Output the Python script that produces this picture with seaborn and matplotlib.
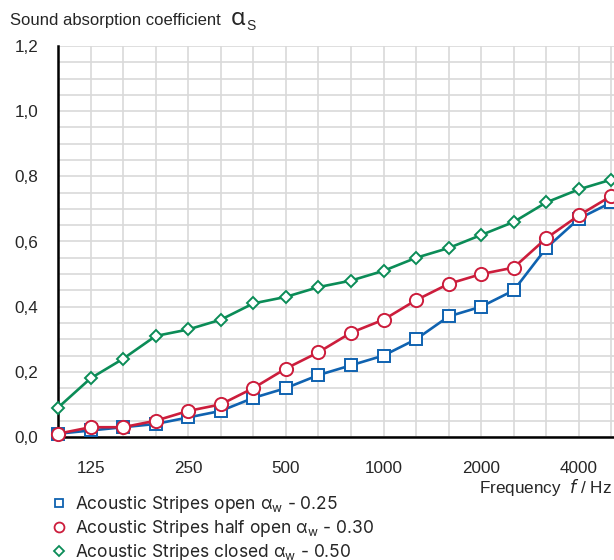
import matplotlib
matplotlib.use("Agg")
import matplotlib.pyplot as plt
from matplotlib.lines import Line2D
import numpy as np
import pandas as pd
import seaborn as sns

# third-octave bands, 100 Hz .. 5000 Hz
bands = [100, 125, 160, 200, 250, 315, 400, 500, 630, 800,
         1000, 1250, 1600, 2000, 2500, 3150, 4000, 5000]
open_vals = [0.01, 0.02, 0.03, 0.04, 0.06, 0.08, 0.12, 0.15, 0.19, 0.22,
             0.25, 0.30, 0.37, 0.40, 0.45, 0.58, 0.67, 0.72]
half_vals = [0.01, 0.03, 0.03, 0.05, 0.08, 0.10, 0.15, 0.21, 0.26, 0.32,
             0.36, 0.42, 0.47, 0.50, 0.52, 0.61, 0.68, 0.74]
closed_vals = [0.09, 0.18, 0.24, 0.31, 0.33, 0.36, 0.41, 0.43, 0.46, 0.48,
               0.51, 0.55, 0.58, 0.62, 0.66, 0.72, 0.76, 0.79]
labeled_bands = [125, 250, 500, 1000, 2000, 4000]
y_ticks = [0.0, 0.2, 0.4, 0.6, 0.8, 1.0, 1.2]

series = [
    ("Acoustic Stripes open α$_\\mathrm{w}$ - 0.25", open_vals, "#0f62b0", "s", 8.5),
    ("Acoustic Stripes half open α$_\\mathrm{w}$ - 0.30", half_vals, "#cc1d3c", "o", 9.5),
    ("Acoustic Stripes closed α$_\\mathrm{w}$ - 0.50", closed_vals, "#0b8c57", "D", 6.5),
]

sns.set_style("white")
plt.rcParams["font.family"] = ["Liberation Sans", "DejaVu Sans"]
plt.rcParams["mathtext.fontset"] = "custom"
plt.rcParams["mathtext.rm"] = "Inter"

fig = plt.figure(figsize=(6.14, 5.6), dpi=100)
ax = fig.add_axes([58 / 614, 1 - 437 / 560, 1 - 58 / 614, (437 - 46) / 560])

pos = np.arange(len(bands))
for name, vals, color, marker, ms in series:
    df = pd.DataFrame({"band": pos, "alpha": vals})
    sns.lineplot(data=df, x="band", y="alpha", ax=ax, color=color, linewidth=1.9,
                 marker=marker, markersize=ms, markerfacecolor="white",
                 markeredgecolor=color, markeredgewidth=1.4, clip_on=False, zorder=3)

ax.set_xlim(0, 17.08)
ax.set_ylim(0, 1.2)

# grid: every band vertically, every 0.05 horizontally
for p in pos:
    ax.axvline(p, color="#d9d9d9", lw=1.2, zorder=0)
for yv in np.arange(0, 1.2001, 0.05):
    ax.axhline(yv, color="#d9d9d9", lw=1.2, zorder=0)

tick_pos = [0] + [bands.index(b) for b in labeled_bands]
ax.set_xticks(tick_pos)
ax.set_xticklabels([""] + [str(b) for b in labeled_bands], fontsize=12.3)
ax.set_yticks(y_ticks)
ax.set_yticklabels([f"{v:.1f}".replace(".", ",") for v in y_ticks], fontsize=12.3)
ax.tick_params(axis="both", direction="out", length=9, width=1.6, color="black", pad=5)
ax.tick_params(axis="x", pad=8)
ax.set_xlabel("")
ax.set_ylabel("")

for side in ["top", "right"]:
    ax.spines[side].set_visible(False)
for side in ["left", "bottom"]:
    ax.spines[side].set_color("black")
    ax.spines[side].set_linewidth(1.8)

fig.text(10 / 614, 1 - 20 / 560, "Sound absorption coefficient", fontsize=12, va="center")
fig.text(231 / 614, 1 - 19 / 560, "α", fontsize=17, family="Noto Sans", va="center")
fig.text(246 / 614, 1 - 26 / 560, "S", fontsize=10, va="center")

fig.text(612 / 614, 1 - 487 / 560, "Frequency  $\\it{f}$ / Hz", fontsize=12.3, ha="right", va="center")

handles = [Line2D([], [], ls="none", marker=m, markersize=ms * 0.75, markerfacecolor="white",
                  markeredgecolor=c, markeredgewidth=1.3) for _, _, c, m, ms in series]
fig.legend(handles, [s[0] for s in series], loc="upper left",
           bbox_to_anchor=(52 / 614, 1 - 494 / 560), frameon=False,
           prop={"family": "Inter", "size": 12.5}, handlelength=0.8,
           handletextpad=0.55, labelspacing=0.18, borderaxespad=0, borderpad=0)

fig.savefig("out.png", dpi=100)
